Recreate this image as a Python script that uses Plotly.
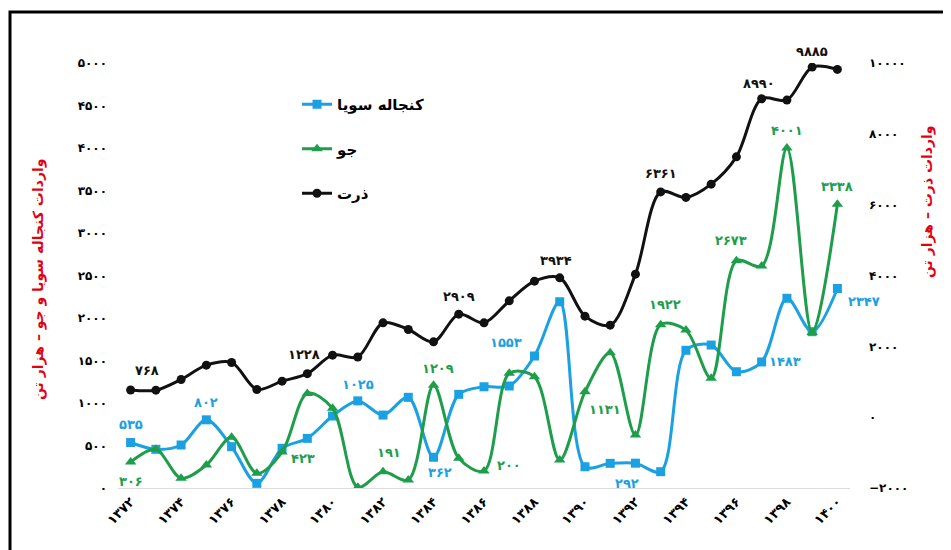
import plotly.graph_objects as go

# ---------------- data ----------------
years = list(range(1372, 1401))
soy_meal = [535, 455, 506, 802, 486, 55, 467, 584, 847, 1025, 858, 1067, 362, 1102, 1191,
            1200, 1553, 2191, 250, 290, 292, 192, 1620, 1682, 1368, 1483, 2232, 1839, 2347]
barley = [306, 455, 114, 270, 596, 173, 423, 1113, 937, 10, 191, 94, 1209, 349, 200,
          1349, 1309, 329, 1131, 1591, 623, 1922, 1858, 1290, 2673, 2611, 4001, 1829, 3338]
corn = [768, 762, 1065, 1468, 1545, 782, 1017, 1228, 1751, 1700, 2663, 2476, 2127, 2909, 2663,
        3285, 3840, 3934, 2852, 2598, 4038, 6361, 6204, 6580, 7351, 8990, 8952, 9885, 9819]

names = ["کنجاله سویا", "جو", "ذرت"]
left_title = "واردات کنجاله سویا و جو – هزار تن"
right_title = "واردات ذرت – هزار تن"
x_tick_years = list(range(1372, 1401, 2))
left_ticks = list(range(0, 5001, 500))
right_ticks = list(range(-2000, 10001, 2000))

# labelled years (and pixel offsets of the label from its point)
soy_label_years = [1372, 1375, 1381, 1384, 1388, 1392, 1397, 1400]
soy_label_off = [(0, -18), (0, -17), (0, -16), (6, 15), (-28, -14), (-8, 20), (23, 0), (27, 13)]
barley_label_years = [1372, 1378, 1382, 1384, 1386, 1390, 1393, 1396, 1398, 1400]
barley_label_off = [(0, 20), (21, 6), (6, -19), (4, -17), (25, -6), (20, 18), (4, -20), (-5, -20), (0, -17), (0, -18)]
corn_label_years = [1372, 1379, 1385, 1389, 1393, 1397, 1399]
corn_label_off = [(16, -19), (-3, -19), (0, -18), (-4, -17), (0, -18), (-3, -15), (0, -16)]

FA = "۰۱۲۳۴۵۶۷۸۹"


def fa(n):
    s = str(abs(int(n)))
    out = "".join(FA[int(c)] for c in s)
    return ("\u2212" + out) if n < 0 else out


BLUE = "#1ba1e2"
GREEN = "#1e9e4a"
BLACK = "#111111"
RED = "#e3000f"
FONT = "DejaVu Sans"

# page body margin offset (figure is drawn 8px in from the page corner)
OFF = 8
# plot-area geometry in reference-image pixels
PL, PR, PT, PB = 118, 850, 63, 488
W, H = 951 - OFF, 550 - OFF
L, T = PL - OFF, PT - OFF
R, B = 951 - PR, 550 - PB
PW, PH = PR - PL, PB - PT


def px_x(p):
    return (p - PL) / PW


def px_y(p):
    return (PB - p) / PH


fig = go.Figure()
fig.add_trace(go.Scatter(x=years, y=soy_meal, name="<b>" + names[0] + "</b>", mode="lines+markers",
                         line=dict(color=BLUE, width=3, shape="spline", smoothing=0.9),
                         marker=dict(symbol="square", size=9, color=BLUE),
                         legendgroup="a", yaxis="y"))
fig.add_trace(go.Scatter(x=years, y=barley, name="<b>" + names[1] + "</b>", mode="lines+markers",
                         line=dict(color=GREEN, width=3, shape="spline", smoothing=0.9),
                         marker=dict(symbol="triangle-up", size=10, color=GREEN),
                         legendgroup="b", yaxis="y"))
fig.add_trace(go.Scatter(x=years, y=corn, name="<b>" + names[2] + "</b>", mode="lines+markers",
                         line=dict(color=BLACK, width=3, shape="spline", smoothing=0.9),
                         marker=dict(symbol="circle", size=9, color=BLACK),
                         legendgroup="c", yaxis="y2"))

annotations = []


def add_labels(label_years, offs, values, color, yref):
    for yr, (dx, dy) in zip(label_years, offs):
        v = values[years.index(yr)]
        annotations.append(dict(x=yr, y=v, xref="x", yref=yref, text="<b>" + fa(v) + "</b>",
                                showarrow=False, xshift=dx, yshift=-dy,
                                xanchor="center", yanchor="middle",
                                font=dict(family=FONT, size=13, color=color)))


add_labels(soy_label_years, soy_label_off, soy_meal, BLUE, "y")
add_labels(barley_label_years, barley_label_off, barley, GREEN, "y")
add_labels(corn_label_years, corn_label_off, corn, BLACK, "y2")

annotations.append(dict(x=px_x(38), y=px_y(280), xref="paper", yref="paper",
                        xanchor="center", yanchor="middle",
                        text="<b>" + left_title + "</b>", textangle=-90, showarrow=False,
                        font=dict(family=FONT, size=14, color=RED)))
annotations.append(dict(x=px_x(927), y=px_y(202), xref="paper", yref="paper",
                        xanchor="center", yanchor="middle",
                        text="<b>" + right_title + "</b>", textangle=-90, showarrow=False,
                        font=dict(family=FONT, size=14, color=RED)))

fig.update_layout(
    width=W, height=H,
    margin=dict(l=L, r=R, t=T, b=B, autoexpand=False),
    paper_bgcolor="white", plot_bgcolor="white",
    font=dict(family=FONT, color="black"),
    showlegend=True,
    legend=dict(x=px_x(297), y=px_y(88), xanchor="left", yanchor="top",
                bgcolor="rgba(0,0,0,0)", tracegroupgap=22,
                font=dict(family=FONT, size=15, color="black")),
    xaxis=dict(range=[1371.5, 1400.5], tickmode="array", tickvals=x_tick_years,
               ticktext=["<b>" + fa(y) + "</b>" for y in x_tick_years], tickangle=-45,
               showgrid=False, zeroline=False, showline=True, linecolor="#dddddd", linewidth=1,
               ticks="", tickfont=dict(family=FONT, size=13, color="black")),
    yaxis=dict(range=[0, 5000], tickmode="array", tickvals=left_ticks,
               ticktext=["<b>" + fa(v) + "</b>" for v in left_ticks],
               showgrid=False, zeroline=False, showline=False, ticks="",
               ticklabelstandoff=10, tickfont=dict(family=FONT, size=12, color="black")),
    yaxis2=dict(range=[-2000, 10000], overlaying="y", side="right", tickmode="array",
                tickvals=right_ticks, ticktext=["<b>" + fa(v) + "</b>" for v in right_ticks],
                showgrid=False, zeroline=False, showline=False, ticks="",
                ticklabelstandoff=18, tickfont=dict(family=FONT, size=12, color="black")),
    annotations=annotations,
    shapes=[dict(type="rect", xref="paper", yref="paper",
                 x0=px_x(10), x1=px_x(960), y0=px_y(600), y1=px_y(12),
                 line=dict(color="black", width=3), fillcolor="rgba(0,0,0,0)", layer="below")],
)

fig.write_html("out.html")
